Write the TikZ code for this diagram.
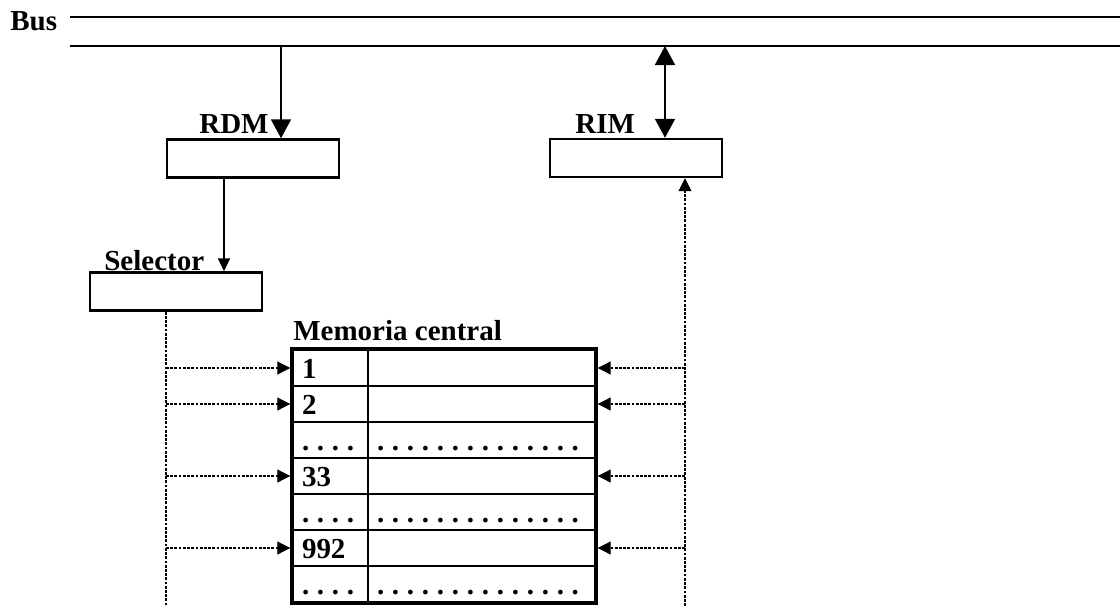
\documentclass[tikz,border=0pt]{standalone}
\usepackage{fontspec}
\setmainfont{Liberation Serif}
\usetikzlibrary{arrows.meta}

\newcommand{\dotstep}{.\kern4.4pt}
\newcommand{\fewdots}{\dotstep\dotstep\dotstep.}
\newcommand{\manydots}{\dotstep\dotstep\dotstep\dotstep\dotstep\dotstep\dotstep
  \dotstep\dotstep\dotstep\dotstep\dotstep\dotstep.}

\begin{document}
\begin{tikzpicture}[
  x=0.02cm, y=-0.02cm,
  font=\fontsize{16.5}{19}\selectfont\bfseries,
  reg/.style={draw,line width=1.4pt,minimum width=3.44cm,minimum height=0.76cm,inner sep=0pt},
  cell/.style={draw,line width=1.1pt,inner xsep=0.18cm,inner ysep=0pt,
               text height=0.57cm,text depth=0.15cm,align=left},
  lcol/.style={cell,text width=1.14cm},
  rcol/.style={cell,text width=4.18cm},
  lbl/.style={anchor=base west,inner sep=0pt},
  bus/.style={line width=1.1pt},
  arr/.style={-{Triangle[length=0.38cm,width=0.4cm]},line width=1.1pt},
  arrboth/.style={{Triangle[length=0.38cm,width=0.4cm]}-{Triangle[length=0.38cm,width=0.4cm]},line width=1.1pt},
  sarr/.style={-{Triangle[length=0.26cm,width=0.24cm]},line width=1.1pt},
  dline/.style={line width=0.6pt,dash pattern=on 1.6pt off 0.8pt},
  darr/.style={dline,-{Triangle[length=0.26cm,width=0.26cm]}}
]
  \useasboundingbox (0,0) rectangle (1120,606);

  % bus
  \node[lbl] (buslbl) at (10,30) {Bus};
  \coordinate (bustopL) at (70,17);
  \coordinate (bustopR) at (1120,17);
  \coordinate (busbotL) at (70,46);
  \coordinate (busbotR) at (1120,46);
  \draw[bus] (bustopL) -- (bustopR);
  \draw[bus] (busbotL) -- (busbotR);

  % registers
  \node[reg] (rdm) at (253,158.5) {};
  \node[reg] (rim) at (636,158) {};
  \node[reg] (sel) at (176,291.5) {};
  \node[lbl] (rdmlbl) at (199,133) {RDM};
  \node[lbl] (rimlbl) at (575,133) {RIM};
  \node[lbl] (sellbl) at (104,270) {Selector};

  \coordinate (rdmtap) at (281,46);
  \coordinate (rimtap) at (665,46);
  \coordinate (seltap) at (224,0);
  \draw[arr] (rdmtap) -- (rdmtap |- rdm.north);
  \draw[arrboth] (rimtap) -- (rimtap |- rim.north);
  \draw[sarr] (rdm.south -| seltap) -- (sel.north -| seltap);

  % memory
  \node[lbl] (memlbl) at (293,340) {Memoria central};
  \foreach \lt/\rt [count=\i] in {1/{},2/{},\fewdots/\manydots,33/{},
                                  \fewdots/\manydots,992/{},\fewdots/\manydots} {
    \node[lcol] (l\i) at (330.5,{368+36*(\i-1)}) {\lt};
    \node[rcol] (r\i) at (481.5,{368+36*(\i-1)}) {\rt};
  }
  \draw[line width=2.3pt] (l1.north west) rectangle (r7.south east);

  % select / data lines
  \coordinate (selend) at (166,606);
  \coordinate (rimend) at (685,606);
  \draw[dline] (sel.south -| selend) -- (selend);
  \draw[darr] (rimend) -- (rim.south -| rimend);
  \foreach \i in {1,2,4,6} {
    \draw[darr,shorten >=1pt] (selend |- l\i.west) -- (l\i.west);
    \draw[darr,shorten >=1pt] (rimend |- r\i.east) -- (r\i.east);
  }
\end{tikzpicture}
\end{document}
